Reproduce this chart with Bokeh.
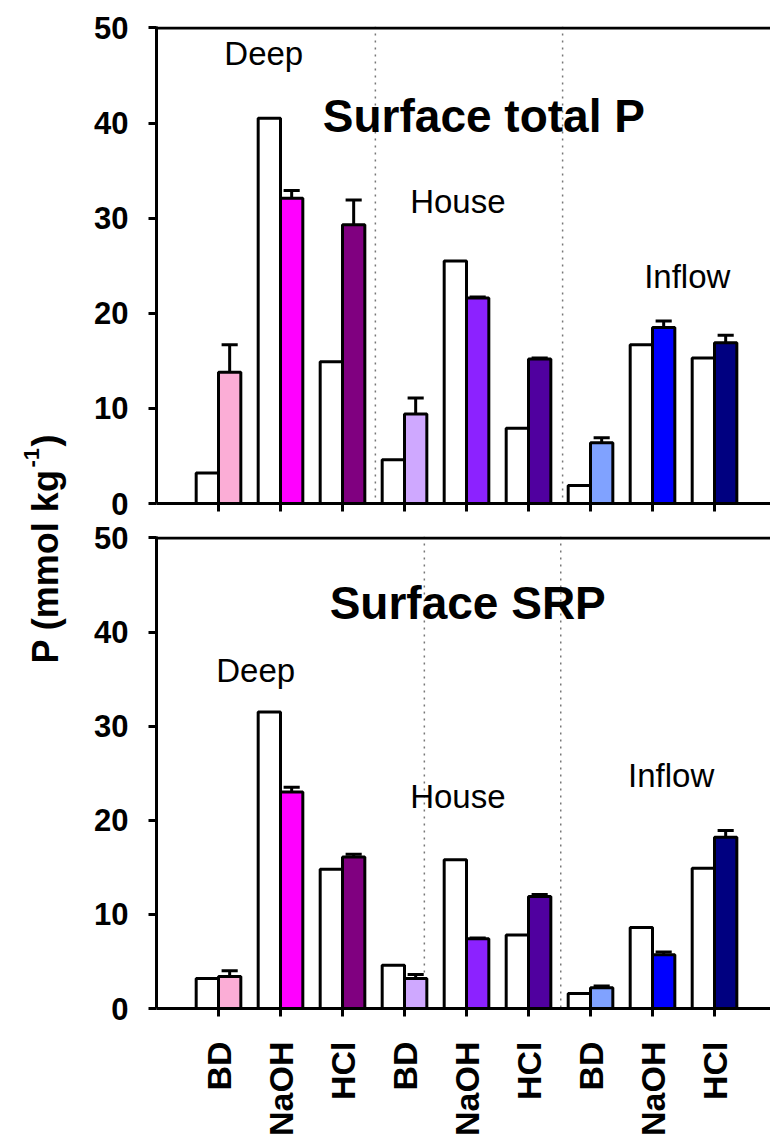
import numpy as np
from bokeh.plotting import figure
from bokeh.layouts import row, column
from bokeh.models import Span, FixedTicker, Range1d
from bokeh.core.properties import value
from bokeh.embed import file_html
from bokeh.resources import INLINE

# ---------------- data ----------------
sites = ["Deep", "House", "Inflow"]
tick_labels = ["BD", "NaOH", "HCl", "BD", "NaOH", "HCl", "BD", "NaOH", "HCl"]
colors = ["#FBADD6", "#FF00FF", "#800080",
          "#CFA8FF", "#8C22FF", "#50009F",
          "#80A2FF", "#0000FF", "#000080"]

total_white = [3.2, 40.5, 14.9, 4.6, 25.5, 7.9, 1.9, 16.7, 15.3]
total_col = [13.8, 32.1, 29.3, 9.4, 21.6, 15.2, 6.4, 18.5, 16.9]
total_err = [2.9, 0.8, 2.6, 1.7, 0.1, 0.1, 0.5, 0.7, 0.8]

srp_white = [3.2, 31.5, 14.8, 4.6, 15.8, 7.8, 1.6, 8.6, 14.9]
srp_col = [3.4, 23.0, 16.1, 3.2, 7.4, 11.9, 2.2, 5.7, 18.2]
srp_err = [0.6, 0.5, 0.3, 0.4, 0.1, 0.2, 0.2, 0.3, 0.7]

FONT = "Liberation Sans"
xs = np.arange(1, len(tick_labels) + 1)
BW = 0.36
CAP = 0.26


def panel(white, col, err, height, top_border, bottom_border, dividers,
          title, title_pos, site_pos, show_labels):
    p = figure(width=700, height=height,
               x_range=Range1d(0, 9.903), y_range=Range1d(0, 50.15),
               output_backend="svg", toolbar_location=None,
               min_border_left=86, min_border_right=0,
               min_border_top=top_border, min_border_bottom=bottom_border)
    p.grid.visible = False
    p.outline_line_color = None
    p.background_fill_color = "white"
    p.border_fill_color = "white"

    # dotted site dividers
    for d in dividers:
        p.add_layout(Span(location=d, dimension="height", line_color="#777777",
                          line_width=1.5, line_dash="2 5", level="underlay"))
    # top frame line
    p.add_layout(Span(location=50, dimension="width", line_color="black",
                      line_width=3))

    white = np.array(white)
    col = np.array(col)
    err = np.array(err)
    p.vbar(x=xs - BW / 2, width=BW, top=white, bottom=0,
           fill_color="white", line_color="black", line_width=3)
    p.vbar(x=xs + BW / 2, width=BW, top=col, bottom=0,
           fill_color=colors, line_color="black", line_width=3)
    # error bars (upper only)
    ex = xs + BW / 2
    p.segment(x0=ex, y0=col, x1=ex, y1=col + err, line_color="black",
              line_width=3)
    p.segment(x0=ex - CAP / 2, y0=col + err, x1=ex + CAP / 2, y1=col + err,
              line_color="black", line_width=3)

    # texts
    p.text(x=[title_pos[0]], y=[title_pos[1]], text=[title],
           text_font=value(FONT), text_font_style="bold",
           text_font_size="46px", text_align="center",
           text_baseline="middle", text_color="black")
    p.text(x=[s[0] for s in site_pos], y=[s[1] for s in site_pos],
           text=sites, text_font=value(FONT), text_font_size="33px",
           text_align="center", text_baseline="middle", text_color="black")

    # axes
    for ax in (p.xaxis[0], p.yaxis[0]):
        ax.axis_line_width = 3
        ax.axis_line_color = "black"
        ax.major_tick_line_width = 3
        ax.major_tick_line_color = "black"
        ax.major_tick_out = 8
        ax.major_tick_in = 0
        ax.minor_tick_out = 0
        ax.minor_tick_in = 0
        ax.major_label_text_font = FONT
        ax.major_label_text_font_style = "bold"
        ax.major_label_text_color = "black"
    p.yaxis.ticker = FixedTicker(ticks=[0, 10, 20, 30, 40, 50])
    p.yaxis.major_label_text_font_size = "31px"
    p.yaxis.major_label_standoff = 20
    p.xaxis.ticker = FixedTicker(ticks=list(xs))
    if show_labels:
        p.xaxis.major_label_overrides = {int(i): t for i, t in zip(xs, tick_labels)}
        p.xaxis.major_label_text_font_size = "34px"
        p.xaxis.major_label_orientation = np.pi / 2
        p.xaxis.major_label_standoff = 25
    else:
        p.xaxis.major_label_overrides = {int(i): "" for i in xs}
        p.xaxis.major_label_text_font_size = "6px"
        p.xaxis.major_label_standoff = 0
    return p


top = panel(total_white, total_col, total_err, 520, 26, 17,
            [3.53, 6.55], "Surface total P", (5.28, 40.7),
            [(1.73, 47.3), (4.86, 31.7), (8.56, 23.9)], False)
bot = panel(srp_white, srp_col, srp_err, 618, 16, 124,
            [4.32, 6.52], "Surface SRP", (5.02, 43.1),
            [(1.6, 35.9), (4.86, 22.5), (8.30, 24.8)], True)

# y-axis title column
lab = figure(width=70, height=1138, x_range=Range1d(0, 70),
             y_range=Range1d(0, 1138), output_backend="svg",
             toolbar_location=None, min_border=0)
lab.axis.visible = False
lab.grid.visible = False
lab.outline_line_color = None
y0 = 1138 - 663
lab.text(x=[45], y=[y0], text=["P (mmol kg"], angle=np.pi / 2,
         text_font=value(FONT), text_font_style="bold", text_font_size="36px",
         text_align="left", text_baseline="alphabetic", text_color="black")
lab.text(x=[31], y=[y0 + 196], text=["-1"], angle=np.pi / 2,
         text_font=value(FONT), text_font_style="bold", text_font_size="22px",
         text_align="left", text_baseline="alphabetic", text_color="black")
lab.text(x=[45], y=[y0 + 217], text=[")"], angle=np.pi / 2,
         text_font=value(FONT), text_font_style="bold", text_font_size="36px",
         text_align="left", text_baseline="alphabetic", text_color="black")

layout = row(lab, column(top, bot))
open("out.html", "w").write(file_html(layout, INLINE))
